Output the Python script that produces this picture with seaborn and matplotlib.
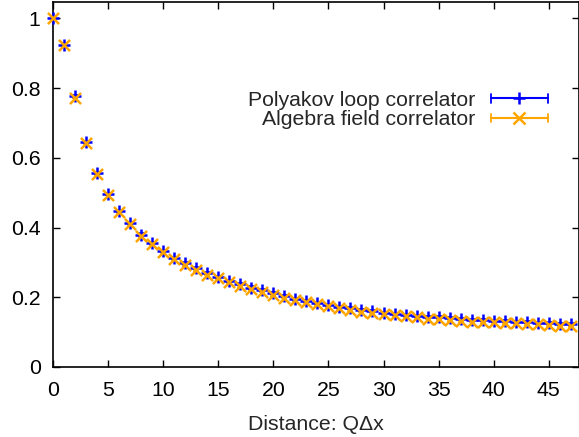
import matplotlib
matplotlib.use("Agg")
import matplotlib.pyplot as plt
import seaborn as sns
import pandas as pd
from matplotlib.lines import Line2D
from matplotlib.legend_handler import HandlerLine2D

distance = list(range(48))
polyakov = [1.0, 0.925, 0.776, 0.645, 0.557, 0.497, 0.447, 0.412, 0.380, 0.356,
            0.333, 0.313, 0.297, 0.283, 0.270, 0.258, 0.247, 0.237, 0.228, 0.220,
            0.211, 0.203, 0.196, 0.190, 0.184, 0.178, 0.173, 0.168, 0.164, 0.160,
            0.156, 0.153, 0.150, 0.147, 0.144, 0.142, 0.140, 0.137, 0.135, 0.134,
            0.133, 0.131, 0.130, 0.128, 0.127, 0.125, 0.123, 0.122]
algebra = [1.0, 0.924, 0.773, 0.642, 0.554, 0.494, 0.444, 0.409, 0.376, 0.352,
           0.329, 0.309, 0.293, 0.278, 0.265, 0.254, 0.243, 0.232, 0.224, 0.216,
           0.207, 0.199, 0.192, 0.186, 0.180, 0.174, 0.168, 0.164, 0.159, 0.155,
           0.151, 0.148, 0.145, 0.142, 0.139, 0.137, 0.135, 0.132, 0.130, 0.129,
           0.128, 0.126, 0.125, 0.123, 0.122, 0.120, 0.118, 0.117]
polyakov_err = 0.003
algebra_err = 0.002
labels = ["Polyakov loop correlator", "Algebra field correlator"]
xlabel = "Distance: Q\u0394x"

BLUE = "#0000ff"
ORANGE = "#ffa500"
FS = 15.3

sns.set_theme(style="ticks")
plt.rcParams["font.family"] = ["Liberation Sans", "DejaVu Sans"]
plt.rcParams["font.size"] = FS

fig = plt.figure(figsize=(5.79, 4.37), dpi=100)
ax = fig.add_axes([53 / 579, 70 / 437, (578.5 - 53) / 579, (367 - 2) / 437])

df = pd.DataFrame({"d": distance, "p": polyakov, "a": algebra})

for col, err, color, marker, s in [("p", polyakov_err, BLUE, "+", 64),
                                    ("a", algebra_err, ORANGE, "x", 64)]:
    ax.errorbar(df["d"], df[col], yerr=err, fmt="none", ecolor=color,
                elinewidth=1.2, capsize=2.5, capthick=1.2, zorder=2,
                clip_on=False)
    sns.scatterplot(data=df, x="d", y=col, ax=ax, color=color, marker=marker,
                    s=s, linewidth=1.8, legend=False, zorder=3, clip_on=False)


class HandlerCapLine(HandlerLine2D):
    def create_artists(self, legend, orig_handle, xdescent, ydescent,
                       width, height, fontsize, trans):
        arts = super().create_artists(legend, orig_handle, xdescent, ydescent,
                                      width, height, fontsize, trans)
        y = height / 2 - ydescent
        c = orig_handle.get_color()
        for xx in (-xdescent, width - xdescent):
            cap = Line2D([xx, xx], [y - 3, y + 3], color=c, linewidth=1.3)
            cap.set_transform(trans)
            arts.append(cap)
        return arts


handles = [Line2D([], [], color=BLUE, marker="+", markersize=9,
                  markeredgewidth=1.8, linewidth=1.5),
           Line2D([], [], color=ORANGE, marker="x", markersize=9,
                  markeredgewidth=1.8, linewidth=1.5)]
leg = fig.legend(handles, labels, loc="center right",
                 bbox_to_anchor=(548 / 579, (437 - 110) / 437),
                 frameon=False, markerfirst=False, handlelength=2.7,
                 handletextpad=0.7, labelspacing=0.02, borderpad=0,
                 borderaxespad=0, fontsize=FS, numpoints=1,
                 handler_map={Line2D: HandlerCapLine(numpoints=1)})

ax.set_xlim(0, 47.7)
ax.set_ylim(0, 1.047)
ax.set_xticks(range(0, 46, 5))
ax.set_yticks([0, 0.2, 0.4, 0.6, 0.8, 1.0])
ax.set_yticklabels(["0", "0.2", "0.4", "0.6", "0.8", "1"])
ax.set_xlabel(xlabel, fontsize=FS, labelpad=11)
ax.set_ylabel("")
ax.tick_params(axis="x", pad=10)
ax.tick_params(axis="y", pad=9)
ax.tick_params(direction="in", length=5, width=1, top=True, right=True,
               labelsize=FS, colors="black")
for s in ax.spines.values():
    s.set_linewidth(1.2)
    s.set_color("black")
    s.set_visible(True)

fig.savefig("out.png", dpi=100)
